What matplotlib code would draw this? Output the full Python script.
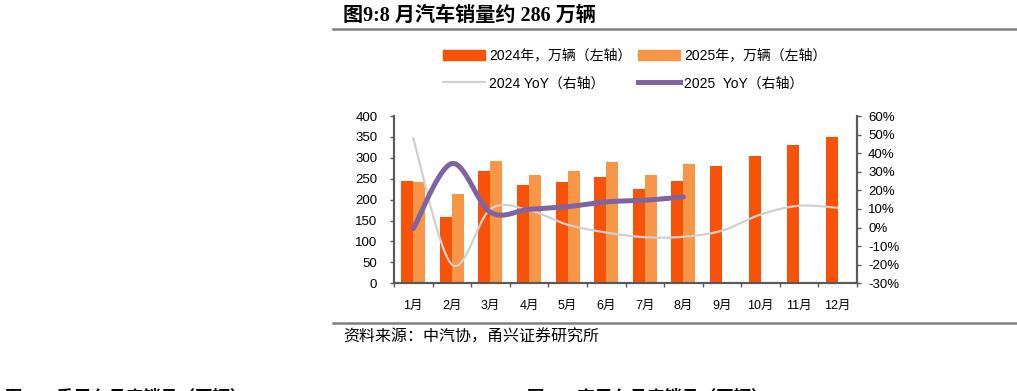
import numpy as np
import matplotlib.pyplot as plt
from matplotlib.lines import Line2D
from matplotlib.patches import Patch
from matplotlib.ticker import FuncFormatter, MultipleLocator

# 数据（万辆 / 同比%）
MESES = ["1月", "2月", "3月", "4月", "5月", "6月", "7月", "8月", "9月", "10月", "11月", "12月"]
VENTAS_2024 = [243.9, 158.4, 269.4, 235.9, 241.7, 255.3, 226.2, 245.3, 280.9, 305.3, 331.6, 349.9]
VENTAS_2025 = [242.3, 212.9, 291.5, 259.0, 268.6, 290.4, 259.3, 285.7]
YOY_2024 = [47.9, -19.9, 9.9, 9.3, 1.5, -2.7, -5.2, -5.0, -1.7, 7.0, 11.7, 10.6]
YOY_2025 = [-0.6, 34.4, 8.2, 9.8, 11.2, 13.8, 14.7, 16.4]

C_2024 = "#F85209"
C_2025 = "#F79646"
C_YOY24 = "#D0D0D0"
C_YOY25 = "#8064A2"
C_EJE = "#595959"

FUENTE = ["Liberation Sans", "Noto Sans CJK SC"]
FUENTE_TIT = ["Liberation Serif", "Noto Sans CJK SC"]


def suavizar(x, y, pasos=30):
    # curva tipo Excel (Catmull-Rom con tension 1/6)
    x = np.asarray(x, float)
    y = np.asarray(y, float)
    px = np.concatenate([[x[0]], x, [x[-1]]])
    py = np.concatenate([[y[0]], y, [y[-1]]])
    xs, ys = [], []
    t = np.linspace(0, 1, pasos)
    for i in range(1, len(px) - 2):
        p0 = np.array([px[i], py[i]])
        p3 = np.array([px[i + 1], py[i + 1]])
        c1 = p0 + (np.array([px[i + 1], py[i + 1]]) - np.array([px[i - 1], py[i - 1]])) / 6
        c2 = p3 - (np.array([px[i + 2], py[i + 2]]) - np.array([px[i], py[i]])) / 6
        b = ((1 - t) ** 3)[:, None] * p0 + (3 * (1 - t) ** 2 * t)[:, None] * c1 \
            + (3 * (1 - t) * t ** 2)[:, None] * c2 + (t ** 3)[:, None] * p3
        xs.extend(b[:, 0])
        ys.extend(b[:, 1])
    return np.array(xs), np.array(ys)


fig = plt.figure(figsize=(10.17, 3.91), dpi=100)
ax = fig.add_axes([0.3874, 0.2755, 0.4553, 0.4278])
ax2 = ax.twinx()
ax.set_zorder(1)
ax2.set_zorder(2)
ax.patch.set_visible(False)
ax2.patch.set_visible(False)

x = np.arange(len(MESES))
ancho = 0.31
ax.bar(x - ancho / 2, VENTAS_2024, width=ancho, color=C_2024, edgecolor="none")
ax.bar(np.arange(len(VENTAS_2025)) + ancho / 2, VENTAS_2025, width=ancho, color=C_2025, edgecolor="none")

sx, sy = suavizar(x, YOY_2024)
ax2.plot(sx, sy, color=C_YOY24, lw=1.6)
sx, sy = suavizar(np.arange(len(YOY_2025)), YOY_2025)
ax2.plot(sx, sy, color=C_YOY25, lw=3.6, solid_capstyle="round")

ax.set_xlim(-0.5, 11.5)
ax.set_ylim(0, 400)
ax.yaxis.set_major_locator(MultipleLocator(50))
ax2.set_ylim(-30, 60)
ax2.yaxis.set_major_locator(MultipleLocator(10))
ax2.yaxis.set_major_formatter(FuncFormatter(lambda v, p: f"{v:.0f}%"))

ax.set_xticks(x)
ax.set_xticklabels(MESES, fontfamily=FUENTE, fontsize=9)
ax.set_xticks(np.arange(-0.5, 12, 1), minor=True)
ax.tick_params(axis="x", which="major", length=0, pad=12)
ax.tick_params(axis="x", which="minor", length=3, width=1, color=C_EJE, direction="out")
ax.tick_params(axis="y", length=3, width=1, color=C_EJE, pad=9, labelsize=9.5)
ax2.tick_params(axis="y", length=3, width=1, color=C_EJE, pad=5, labelsize=9.5)
for a in (ax, ax2):
    for lab in a.get_yticklabels():
        lab.set_fontfamily(FUENTE)
    a.spines["top"].set_visible(False)
    for s in ("left", "right", "bottom"):
        a.spines[s].set_color(C_EJE)
        a.spines[s].set_linewidth(1.5)

# leyenda (orden por columnas)
manejadores = [
    Patch(color=C_2024, label="2024年，万辆（左轴）"),
    Line2D([], [], color=C_YOY24, lw=1.6, label="2024 YoY（右轴）"),
    Patch(color=C_2025, label="2025年，万辆（左轴）"),
    Line2D([], [], color=C_YOY25, lw=3.6, label="2025  YoY（右轴）"),
]
fig.legend(handles=manejadores, ncol=2, loc="center left", bbox_to_anchor=(0.4356, 0.822),
           frameon=False, prop={"family": FUENTE, "size": 10}, handlelength=3.0,
           handleheight=0.8, handletextpad=0.3, columnspacing=0.5, labelspacing=1.0,
           borderaxespad=0, borderpad=0)

# titulo y lineas
fig.text(0.337, 0.960, "图9:8 月汽车销量约 286 万辆", fontfamily=FUENTE_TIT, fontweight="bold",
         fontsize=14.5, va="center", ha="left")
fig.add_artist(Line2D([0.327, 1.0], [0.925, 0.925], color="#808080", lw=1.8))
fig.add_artist(Line2D([0.327, 1.0], [0.173, 0.173], color="#808080", lw=1.8))
fig.text(0.338, 0.138, "资料来源：中汽协，甬兴证券研究所", fontfamily=FUENTE, fontsize=11.5,
         style="italic", va="center", ha="left")

# titulos siguientes (cortados por el borde inferior, como en el original)
fig.text(0.005, 0.005, "图10：乘用车月度销量（万辆）", fontfamily=FUENTE_TIT, fontweight="bold",
         fontsize=12.5, va="top", ha="left")
fig.text(0.518, 0.005, "图11：商用车月度销量（万辆）", fontfamily=FUENTE_TIT, fontweight="bold",
         fontsize=12.5, va="top", ha="left")

fig.savefig("out.png", dpi=100)
